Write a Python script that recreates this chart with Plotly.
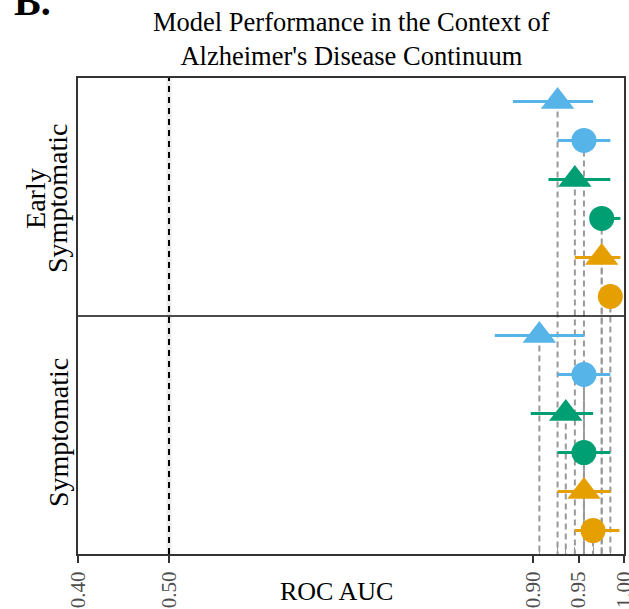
import plotly.graph_objects as go

# ---------------- data ----------------
groups = ["Early Symptomatic", "Symptomatic"]
models = ["Model 1", "Model 2", "Model 3", "Model 4", "Model 5", "Model 6"]
model_colors = ["#56B4E9", "#56B4E9", "#009E73", "#009E73", "#E69F00", "#E69F00"]
model_symbols = ["triangle-up", "circle", "triangle-up", "circle", "triangle-up", "circle"]

auc_early = [0.927, 0.956, 0.946, 0.9755, 0.9755, 0.985]
lo_early = [0.878, 0.927, 0.917, 0.965, 0.946, 0.975]
hi_early = [0.966, 0.985, 0.985, 0.996, 0.996, 0.996]

auc_sym = [0.907, 0.956, 0.936, 0.956, 0.956, 0.966]
lo_sym = [0.858, 0.927, 0.8975, 0.927, 0.927, 0.946]
hi_sym = [0.956, 0.985, 0.966, 0.985, 0.985, 0.995]

tick_vals = [0.40, 0.50, 0.90, 0.95, 1.00]
tick_text = ["0.40", "0.50", "0.90", "0.95", "1.00"]
CHANCE_AUC = 0.5

# ---------------- layout helpers ----------------
n = len(models)
rows_early = [i + 1 for i in range(n)]
rows_sym = [i + 1 + n for i in range(n)]
y_bottom = 2 * n + 0.6
y_top = 0.4

SERIF = "Liberation Serif, Times New Roman, serif"

W, H = 629, 609
PX0, PY0, PW, PH = 78, 78, 546, 476  # plot area in page pixels


def px(xp):
    return (xp - PX0) / PW


def py(yp):
    return (PY0 + PH - yp) / PH


fig = go.Figure()

# dashed drop lines from each point down to the bottom of the plot
dx, dy = [], []
for a, r in zip(auc_early + auc_sym, rows_early + rows_sym):
    dx += [a, a, None]
    dy += [r, y_bottom, None]
fig.add_trace(go.Scatter(x=dx, y=dy, mode="lines",
                         line=dict(color="#999999", width=2, dash="6px,4px"),
                         hoverinfo="skip", showlegend=False))

for i, m in enumerate(models):
    xs = [auc_early[i], auc_sym[i]]
    ys = [rows_early[i], rows_sym[i]]
    plus = [hi_early[i] - auc_early[i], hi_sym[i] - auc_sym[i]]
    minus = [auc_early[i] - lo_early[i], auc_sym[i] - lo_sym[i]]
    sym = model_symbols[i]
    fig.add_trace(go.Scatter(
        x=xs, y=ys, mode="markers", name=m, showlegend=False,
        marker=dict(color=model_colors[i], symbol=sym,
                    size=29 if sym == "triangle-up" else 25,
                    line=dict(width=0)),
        error_x=dict(type="data", symmetric=False, array=plus, arrayminus=minus,
                     color=model_colors[i], thickness=3, width=0),
    ))

fig.update_layout(
    width=W, height=H,
    margin=dict(l=PX0, r=W - PX0 - PW, t=PY0, b=H - PY0 - PH, autoexpand=False),
    plot_bgcolor="white", paper_bgcolor="white",
    font=dict(family=SERIF, color="black"),
    xaxis=dict(
        range=[0.4, 1.0], tickvals=tick_vals, ticktext=tick_text, automargin=False,
        tickangle=-90, tickfont=dict(family=SERIF, size=21, color="#4d4d4d"),
        ticklabeloverflow="allow",
        ticks="outside", ticklen=7, tickwidth=2, tickcolor="#333333",
        showline=True, linecolor="#333333", linewidth=2, mirror=True,
        showgrid=False, zeroline=False,
        minor=dict(tickmode="array", tickvals=sorted(set(auc_early + auc_sym)),
                   ticks="inside", ticklen=7, tickwidth=1.2, tickcolor="#9a9a9a",
                   showgrid=False),
    ),
    yaxis=dict(
        range=[y_bottom, y_top], showticklabels=False, ticks="", automargin=False,
        showline=True, linecolor="#333333", linewidth=2, mirror=True,
        showgrid=False, zeroline=False,
    ),
    shapes=[
        dict(type="line", xref="x", yref="paper", x0=CHANCE_AUC, x1=CHANCE_AUC, y0=0, y1=1,
             line=dict(color="#ebebeb", width=5), layer="below"),
        dict(type="line", xref="x", yref="paper", x0=CHANCE_AUC, x1=CHANCE_AUC, y0=0, y1=1,
             line=dict(color="black", width=2, dash="6px,5px"), layer="above"),
        dict(type="line", xref="paper", yref="y", x0=0, x1=1, y0=n + 0.5, y1=n + 0.5,
             line=dict(color="#111111", width=1.4)),
    ],
    annotations=[
        dict(text="Model Performance in the Context of<br>Alzheimer's Disease Continuum",
             xref="paper", yref="paper", x=0.5, y=1.0 + 5 / PH, xanchor="center", yanchor="bottom",
             showarrow=False, font=dict(family=SERIF, size=26.5, color="black")),
        dict(text="<b>B.</b>", xref="paper", yref="paper", x=px(12), y=py(26),
             xanchor="left", yanchor="bottom", showarrow=False,
             font=dict(family=SERIF, size=40, color="black")),
        dict(text="Early", xref="paper", yref="y", x=px(36),
             y=(n + 1) / 2, xanchor="center", yanchor="middle", textangle=-90,
             showarrow=False, font=dict(family=SERIF, size=28, color="black")),
        dict(text="Symptomatic", xref="paper", yref="y", x=px(58),
             y=(n + 1) / 2, xanchor="center", yanchor="middle", textangle=-90,
             showarrow=False, font=dict(family=SERIF, size=28, color="black")),
        dict(text="Symptomatic", xref="paper", yref="y", x=px(58),
             y=n + (n + 1) / 2, xanchor="center", yanchor="middle", textangle=-90,
             showarrow=False, font=dict(family=SERIF, size=28, color="black")),
        dict(text="ROC AUC", xref="paper", yref="paper", x=px(336),
             y=py(591), xanchor="center", yanchor="middle",
             showarrow=False, font=dict(family=SERIF, size=26, color="black")),
    ],
)

fig.write_html(
    "out.html",
    config={"displayModeBar": False},
    post_script="document.body.style.margin='0';document.body.style.overflow='hidden';",
)
